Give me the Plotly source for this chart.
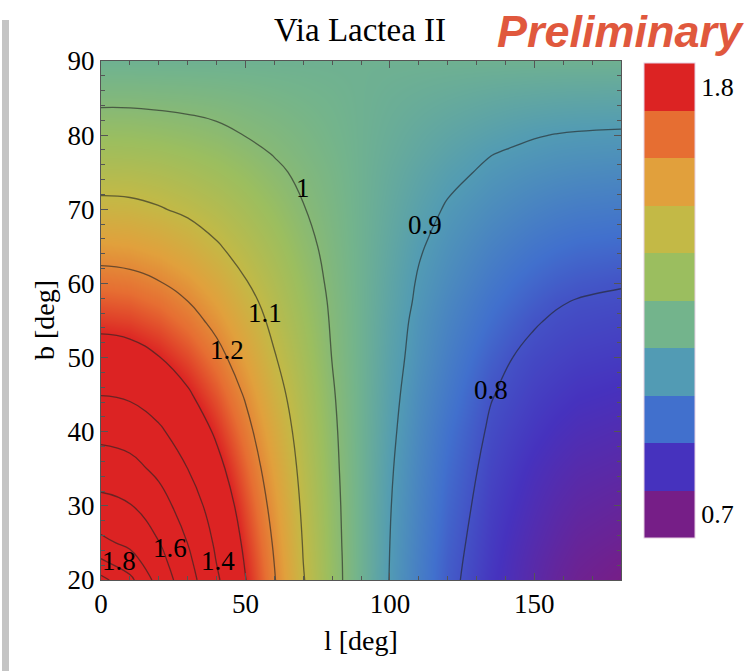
import plotly.graph_objects as go

# ---- data (value ratio vs galactic l, b) ----
l_deg = [0, 10, 20, 30, 40, 50, 60, 70, 80, 90, 100, 110, 120, 135, 142.5, 150, 157.5, 165, 180]
b_deg = [20, 22.5, 25, 30, 35, 40, 45, 50, 55, 57.5, 60, 65, 70, 75, 77.5, 80, 85, 90]

z_b20 = [1.930, 1.825, 1.661, 1.542, 1.413, 1.302, 1.204, 1.104, 1.024, 0.958, 0.898, 0.855, 0.812, 0.771, 0.755, 0.739, 0.724, 0.712, 0.700]
z_b22 = [1.814, 1.739, 1.633, 1.521, 1.398, 1.294, 1.199, 1.100, 1.023, 0.958, 0.899, 0.856, 0.814, 0.774, 0.757, 0.742, 0.728, 0.717, 0.706]
z_b25 = [1.721, 1.680, 1.603, 1.499, 1.385, 1.285, 1.193, 1.097, 1.021, 0.958, 0.900, 0.858, 0.817, 0.776, 0.760, 0.746, 0.733, 0.722, 0.713]
z_b30 = [1.629, 1.605, 1.542, 1.451, 1.356, 1.266, 1.179, 1.090, 1.018, 0.958, 0.902, 0.862, 0.823, 0.781, 0.767, 0.754, 0.742, 0.733, 0.725]
z_b35 = [1.550, 1.531, 1.478, 1.400, 1.323, 1.244, 1.163, 1.082, 1.014, 0.958, 0.905, 0.866, 0.829, 0.787, 0.774, 0.762, 0.752, 0.744, 0.738]
z_b40 = [1.473, 1.457, 1.413, 1.356, 1.289, 1.220, 1.145, 1.073, 1.010, 0.958, 0.909, 0.871, 0.836, 0.794, 0.782, 0.772, 0.763, 0.756, 0.750]
z_b45 = [1.398, 1.387, 1.357, 1.309, 1.255, 1.194, 1.125, 1.063, 1.005, 0.958, 0.913, 0.877, 0.846, 0.802, 0.791, 0.781, 0.774, 0.768, 0.763]
z_b50 = [1.337, 1.328, 1.302, 1.266, 1.220, 1.165, 1.104, 1.052, 0.999, 0.958, 0.917, 0.884, 0.855, 0.816, 0.800, 0.791, 0.785, 0.780, 0.776]
z_b55 = [1.279, 1.272, 1.253, 1.223, 1.183, 1.135, 1.085, 1.040, 0.995, 0.958, 0.921, 0.889, 0.864, 0.831, 0.816, 0.803, 0.796, 0.792, 0.788]
z_b57 = [1.252, 1.246, 1.229, 1.201, 1.164, 1.120, 1.076, 1.034, 0.993, 0.958, 0.924, 0.893, 0.869, 0.838, 0.825, 0.813, 0.803, 0.798, 0.795]
z_b60 = [1.226, 1.220, 1.204, 1.179, 1.145, 1.104, 1.067, 1.028, 0.990, 0.958, 0.926, 0.896, 0.875, 0.846, 0.833, 0.823, 0.814, 0.808, 0.802]
z_b65 = [1.172, 1.167, 1.154, 1.133, 1.105, 1.078, 1.048, 1.015, 0.985, 0.958, 0.931, 0.904, 0.885, 0.861, 0.851, 0.842, 0.835, 0.830, 0.826]
z_b70 = [1.117, 1.114, 1.104, 1.090, 1.073, 1.052, 1.028, 1.002, 0.980, 0.958, 0.936, 0.915, 0.896, 0.877, 0.869, 0.862, 0.856, 0.852, 0.849]
z_b75 = [1.071, 1.070, 1.064, 1.054, 1.041, 1.026, 1.008, 0.991, 0.975, 0.958, 0.941, 0.925, 0.910, 0.893, 0.887, 0.882, 0.878, 0.875, 0.872]
z_b77 = [1.050, 1.048, 1.044, 1.036, 1.026, 1.013, 0.998, 0.985, 0.972, 0.958, 0.944, 0.931, 0.918, 0.901, 0.896, 0.892, 0.888, 0.886, 0.884]
z_b80 = [1.029, 1.028, 1.024, 1.018, 1.010, 0.999, 0.990, 0.980, 0.969, 0.958, 0.947, 0.936, 0.926, 0.913, 0.907, 0.902, 0.899, 0.897, 0.895]
z_b85 = [0.990, 0.990, 0.988, 0.986, 0.983, 0.979, 0.974, 0.969, 0.964, 0.958, 0.952, 0.947, 0.942, 0.935, 0.932, 0.930, 0.928, 0.927, 0.926]
z_b90 = [0.958, 0.958, 0.958, 0.958, 0.958, 0.958, 0.958, 0.958, 0.958, 0.958, 0.958, 0.958, 0.958, 0.958, 0.958, 0.958, 0.958, 0.958, 0.958]

label_text = ["1", "0.9", "1.1", "1.2", "0.8", "1.8", "1.6", "1.4"]
label_l = [69.8, 112, 56.7, 43.5, 135, 6.2, 24.0, 40.6]
label_b = [72.9, 67.9, 56.0, 51.0, 45.6, 22.6, 24.3, 22.6]

bar_tick_vals = [0.7, 1.8]
bar_tick_text = ["0.7", "1.8"]

# ---- styling ----
palette = ["#761e87", "#4632be", "#4170cd", "#529bb4", "#73b48c",
           "#9bbe5f", "#c3b946", "#e1a03c", "#e66e32", "#dc2323"]
heat_scale = [[i / 9, c] for i, c in enumerate(palette)]
bar_scale = []
for i, c in enumerate(palette):
    bar_scale.append([i / 10, c])
    bar_scale.append([(i + 1) / 10, c])

z = [z_b20, z_b22, z_b25, z_b30, z_b35, z_b40, z_b45, z_b50, z_b55, z_b57,
     z_b60, z_b65, z_b70, z_b75, z_b77, z_b80, z_b85, z_b90]

SERIF = "Liberation Serif, Times New Roman, serif"


def px_x(p):
    return (p - 101) / 520


def px_y(p):
    return (580 - p) / 519


fig = go.Figure()
fig.add_trace(go.Heatmap(x=l_deg, y=b_deg, z=z, zmin=0.7, zmax=1.3,
                         colorscale=heat_scale, zsmooth="best",
                         showscale=False, hoverinfo="skip"))
fig.add_trace(go.Contour(x=l_deg, y=b_deg, z=z,
                         contours=dict(start=0.8, end=1.9, size=0.1,
                                       coloring="none", showlabels=False),
                         line=dict(color="rgba(35,35,35,0.62)", width=1.3, smoothing=1.3),
                         showscale=False, hoverinfo="skip"))

# discrete colour bar (10 boxes, labelled 0.7 ... 1.8)
half = (bar_tick_vals[1] - bar_tick_vals[0]) / 9 / 2
fig.add_trace(go.Scatter(
    x=[-500], y=[-500], mode="markers", showlegend=False, hoverinfo="skip",
    marker=dict(color=[bar_tick_vals[0]], colorscale=bar_scale,
                cmin=bar_tick_vals[0] - half, cmax=bar_tick_vals[1] + half,
                showscale=True,
                colorbar=dict(x=px_x(644), xanchor="left", xpad=0,
                              y=px_y(300.5), yanchor="middle", ypad=0,
                              len=475 / 519, lenmode="fraction", thickness=51,
                              outlinecolor="#e6cfe2", outlinewidth=1,
                              tickvals=bar_tick_vals, ticktext=bar_tick_text,
                              ticks="",
                              tickfont=dict(family=SERIF, size=26, color="black")))))

annotations = []
for t, lx, by in zip(label_text, label_l, label_b):
    annotations.append(dict(x=lx, y=by, xref="x", yref="y", text=t, showarrow=False,
                            xanchor="center", yanchor="middle",
                            font=dict(family=SERIF, size=27, color="black")))

annotations += [
    dict(x=px_x(360), y=px_y(30), xref="paper", yref="paper",
         xanchor="center", yanchor="middle",
         text="Via Lactea II", showarrow=False,
         font=dict(family=SERIF, size=33, color="black")),
    dict(x=px_x(620), y=px_y(32), xref="paper", yref="paper",
         xanchor="center", yanchor="middle",
         text="<b><i>Preliminary</i></b>", showarrow=False,
         font=dict(family="Liberation Sans, Arial, sans-serif", size=45, color="#e0583d")),
    dict(x=px_x(361), y=px_y(640), xref="paper", yref="paper",
         xanchor="center", yanchor="middle",
         text="l [deg]", showarrow=False,
         font=dict(family=SERIF, size=28, color="black")),
    dict(x=px_x(44), y=px_y(320), xref="paper", yref="paper",
         xanchor="center", yanchor="middle",
         text="b [deg]", showarrow=False, textangle=-90,
         font=dict(family=SERIF, size=28, color="black")),
]

axis_common = dict(showline=True, linecolor="#555555", linewidth=1, mirror="ticks",
                   ticks="inside", tickcolor="#555555", ticklen=7, tickwidth=1,
                   showgrid=False, zeroline=False,
                   tickfont=dict(family=SERIF, size=27, color="black"))

fig.update_layout(
    width=754, height=671,
    margin=dict(l=101, r=133, t=61, b=91),
    paper_bgcolor="white", plot_bgcolor="white",
    showlegend=False,
    xaxis=dict(range=[0, 180], tickvals=[0, 50, 100, 150],
               minor=dict(dtick=10, ticks="inside", ticklen=4, tickcolor="#555555"),
               **axis_common),
    yaxis=dict(range=[20, 90], tickvals=[20, 30, 40, 50, 60, 70, 80, 90],
               minor=dict(dtick=2, ticks="inside", ticklen=4, tickcolor="#555555"),
               **axis_common),
    annotations=annotations,
    shapes=[dict(type="rect", xref="paper", yref="paper",
                 x0=px_x(2), x1=px_x(9),
                 y0=px_y(671), y1=px_y(20),
                 fillcolor="#c4c4c4", line=dict(width=0), layer="below")],
)

fig.write_html("out.html")
